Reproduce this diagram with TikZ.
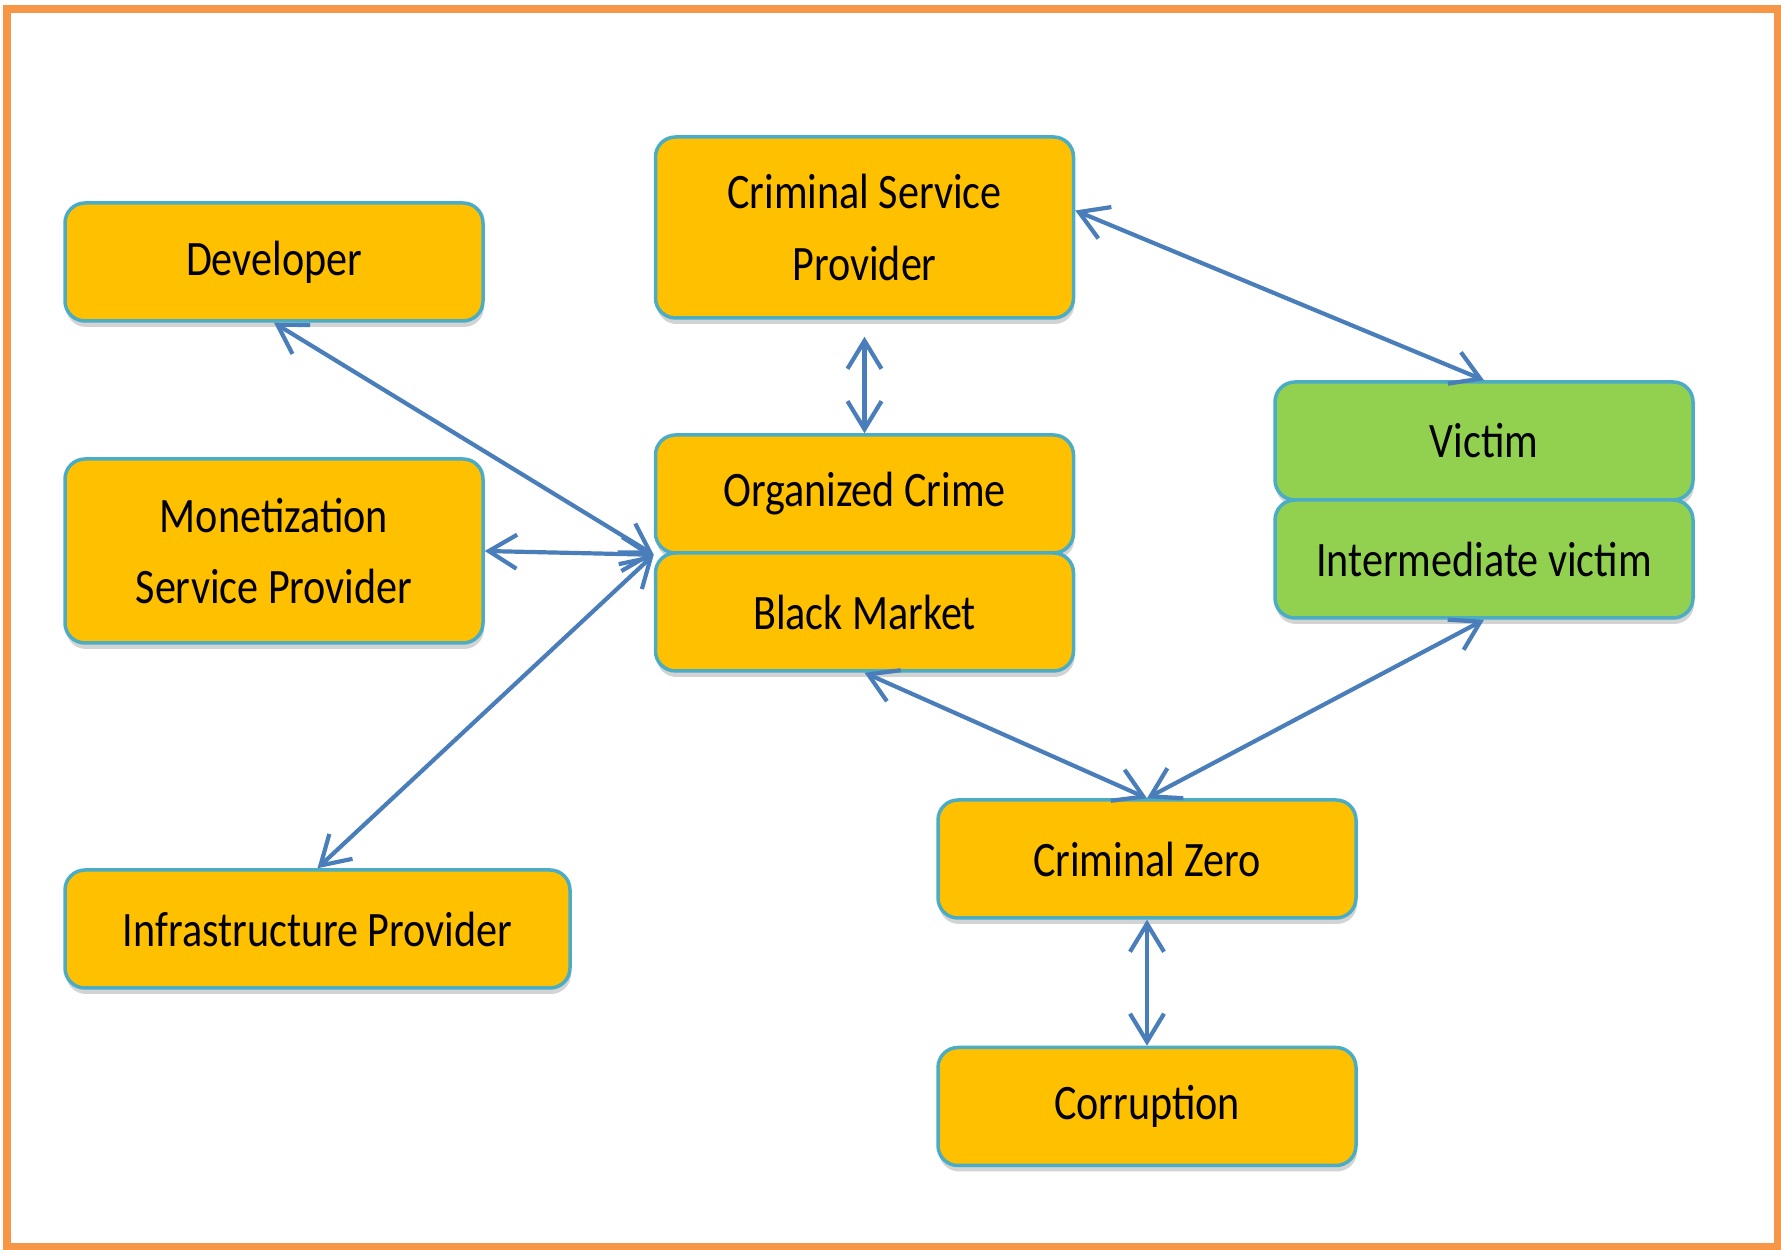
\documentclass[tikz,border=0pt]{standalone}
\usepackage{fontspec}
\setmainfont{Carlito}[FakeStretch=0.85]
\usepackage{tikz}
\usetikzlibrary{arrows.meta,positioning,shadows}

\definecolor{boxgold}{HTML}{FFC000}
\definecolor{boxgreen}{HTML}{92D050}
\definecolor{boxline}{HTML}{4BACC6}
\definecolor{linkblue}{HTML}{4A7EBB}
\definecolor{frameorange}{HTML}{F79646}

\begin{document}
\begin{tikzpicture}[
          actor/.style={draw=boxline, fill=boxgold, line width=0.035cm, rounded corners=0.2cm,
                        minimum width=4.18cm, minimum height=1.18cm, align=center,
                        font=\fontsize{14.1}{20.4}\selectfont,
                        drop shadow={opacity=0.35, shadow xshift=0.01cm, shadow yshift=-0.06cm}},
          victimbox/.style={actor, fill=boxgreen},
          link/.style={linkblue, line width=0.042cm, {Straight Barb[length=2.8mm,width=3.4mm]}-{Straight Barb[length=2.8mm,width=3.4mm]}}
        ]
          \useasboundingbox (0,0) rectangle (17.81,12.5);

          % Rahmen
          \draw[frameorange, line width=0.08cm] (0.065,0.025) rectangle (17.775,12.41);

          % Akteure links
          \node[actor] (dev) at (2.74,9.88) {Developer};
          \node[actor, minimum height=1.84cm] (msp) at (2.74,6.99) {Monetization\\Service Provider};
          \node[actor, minimum width=5.05cm] (infra) at (3.175,3.21) {Infrastructure Provider};

          % Mitte
          \node[actor, minimum height=1.81cm] (csp) at (8.645,10.225) {Criminal Service\\Provider};
          \node[actor] (oc) at (8.645,7.56) {Organized Crime};
          \node[actor, below=-0.035cm of oc] (bm) {Black Market};

          % Opfer
          \node[victimbox] (victim) at (14.84,8.09) {Victim};
          \node[victimbox, below=-0.035cm of victim] (ivictim) {Intermediate victim};

          % unten
          \node[actor] (cz) at (11.47,3.91) {Criminal Zero};
          \node[actor] (corr) at (11.47,1.435) {Corruption};

          % Verbindungen
          \draw[link] (dev.south) -- (oc.south west);
          \draw[link] (msp.east) -- (oc.south west);
          \draw[link] (infra.north) -- (oc.south west);
          \draw[link, shorten <=0.17cm] (csp.south) -- (oc.north);
          \draw[link] ([yshift=0.17cm]csp.east) -- (victim.north);
          \draw[link] (bm.south) -- (cz.north);
          \draw[link] (ivictim.south) -- (cz.north);
          \draw[link] (cz.south) -- (corr.north);
        \end{tikzpicture}
\end{document}
